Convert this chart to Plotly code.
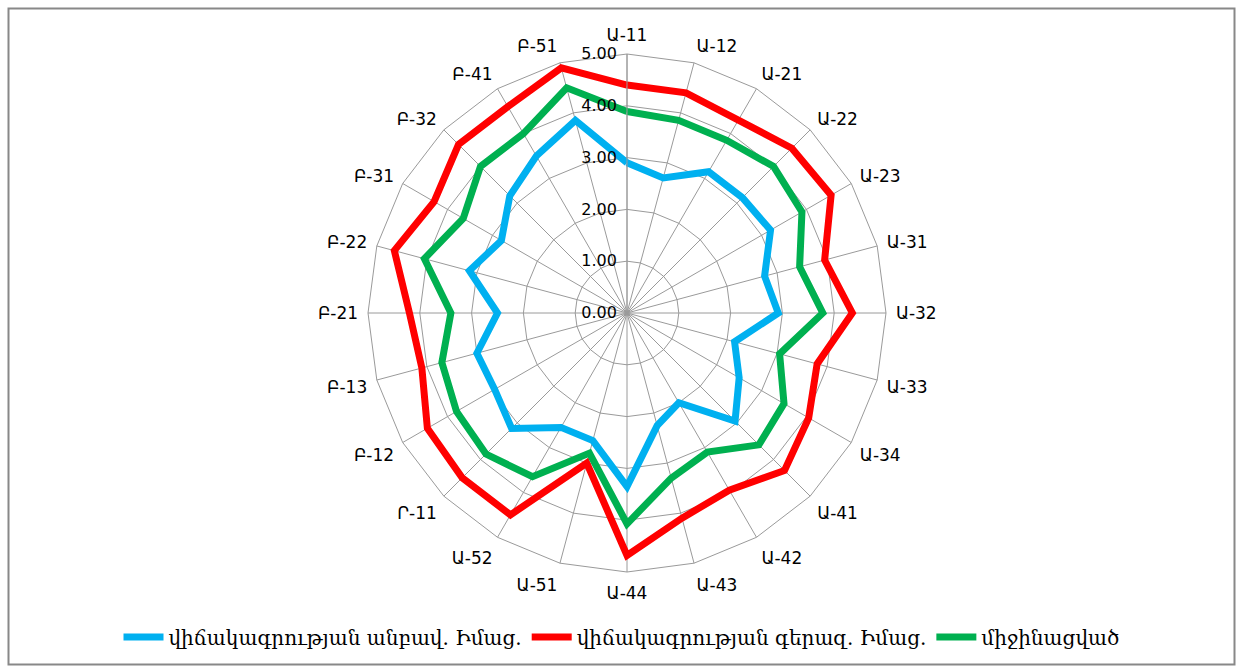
import plotly.graph_objects as go

categories = ["Ա-11", "Ա-12", "Ա-21", "Ա-22", "Ա-23", "Ա-31", "Ա-32", "Ա-33",
              "Ա-34", "Ա-41", "Ա-42", "Ա-43", "Ա-44", "Ա-51", "Ա-52", "Ր-11",
              "Բ-12", "Բ-13", "Բ-21", "Բ-22", "Բ-31", "Բ-32", "Բ-41", "Բ-51"]

lower = [2.90, 2.70, 3.15, 3.15, 3.20, 2.75, 2.92, 2.15, 2.50, 2.95, 2.00, 2.25,
         3.35, 2.55, 2.55, 3.15, 2.95, 3.00, 2.50, 3.15, 2.80, 3.20, 3.50, 3.85]
upper = [4.40, 4.40, 4.30, 4.50, 4.55, 3.95, 4.35, 3.80, 4.05, 4.30, 3.95, 4.10,
         4.68, 3.00, 4.50, 4.50, 4.45, 4.10, 4.20, 4.65, 4.30, 4.60, 4.60, 4.90]
average = [3.89, 3.85, 3.85, 4.00, 3.90, 3.45, 3.78, 3.05, 3.50, 3.60, 3.10, 3.30,
           4.07, 2.80, 3.65, 3.85, 3.80, 3.70, 3.40, 4.05, 3.65, 4.00, 4.00, 4.50]

series_names = ["վիճակագրության անբավ. Իմաց.",
                "վիճակագրության գերազ. Իմաց.",
                "միջինացված"]
series_colors = ["#00B0F0", "#FF0000", "#00B050"]
radial_ticks = [0, 1, 2, 3, 4, 5]

W, H = 1243, 669
cx, cy, R = 627, 313, 259

fig = go.Figure()
for name, vals, col in zip(series_names, [lower, upper, average], series_colors):
    fig.add_trace(go.Scatterpolar(
        r=vals + vals[:1],
        theta=categories + categories[:1],
        mode="lines",
        name=name,
        line=dict(color=col, width=7),
    ))

fig.update_layout(
    width=W, height=H,
    margin=dict(l=0, r=0, t=0, b=0),
    paper_bgcolor="white",
    plot_bgcolor="white",
    font=dict(family="DejaVu Sans", size=15, color="#000000"),
    polar=dict(
        domain=dict(x=[(cx - R) / W, (cx + R) / W],
                    y=[(H - cy - R) / H, (H - cy + R) / H]),
        bgcolor="white",
        gridshape="linear",
        angularaxis=dict(
            type="category",
            categoryorder="array",
            categoryarray=categories,
            rotation=90,
            direction="clockwise",
            showline=True,
            linecolor="#9a9a9a",
            linewidth=1,
            gridcolor="#9a9a9a",
            gridwidth=1,
            ticks="outside",
            ticklen=6,
            tickcolor="rgba(0,0,0,0)",
            tickfont=dict(family="DejaVu Sans", size=17, color="#000000"),
        ),
        radialaxis=dict(
            range=[0, 5],
            tickvals=radial_ticks,
            tickformat=".2f",
            angle=90,
            tickangle=90,
            side="counterclockwise",
            showline=True,
            linecolor="#9a9a9a",
            gridcolor="#9a9a9a",
            gridwidth=1,
            ticks="outside",
            ticklen=4,
            tickcolor="rgba(0,0,0,0)",
            tickfont=dict(family="DejaVu Sans", size=16, color="#000000"),
        ),
    ),
    legend=dict(
        orientation="h",
        x=0.5, xanchor="center",
        y=(H - 637) / H, yanchor="middle",
        font=dict(family="DejaVu Serif", size=20, color="#000000"),
        itemwidth=40,
        tracegroupgap=0,
    ),
    shapes=[dict(type="rect", xref="paper", yref="paper",
                 x0=8.5 / W, x1=(W - 8.5) / W, y0=4.5 / H, y1=(H - 8.5) / H,
                 line=dict(color="#888888", width=2))],
)

fig.write_html("out.html")
